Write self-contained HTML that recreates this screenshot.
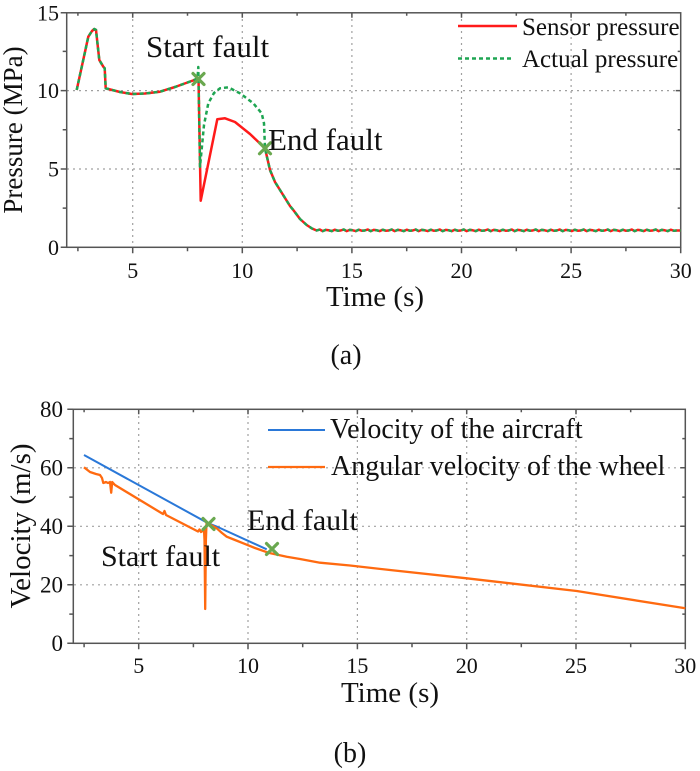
<!DOCTYPE html>
<html><head><meta charset="utf-8"><style>
html,body{margin:0;padding:0;background:#fff;}
svg{display:block;}
text{font-family:"Liberation Serif","Times New Roman",serif;}
</style></head><body>
<svg width="700" height="771" viewBox="0 0 700 771" xmlns="http://www.w3.org/2000/svg" font-family="Liberation Serif, serif">
<rect width="700" height="771" fill="#fff"/>
<!-- ===== (a) ===== -->
<g stroke="#a0a0a0" stroke-width="1.2" stroke-dasharray="2,4" fill="none">
<path d="M132.7,13V247 M242.3,13V247 M351.9,13V247 M461.5,13V247 M571.1,13V247"/>
<path d="M67,169H681 M67,90.6H681"/>
</g>
<g stroke="#555" stroke-width="1.5" fill="none">
<rect x="66.7" y="12.8" width="614" height="234.5"/>
<path d="M132.7,247.3v6 M242.3,247.3v6 M351.9,247.3v6 M461.5,247.3v6 M571.1,247.3v6 M680.7,247.3v6
M77.9,247.3v4 M187.5,247.3v4 M297.1,247.3v4 M406.7,247.3v4 M516.3,247.3v4 M625.9,247.3v4
M132.7,12.8v5 M242.3,12.8v5 M351.9,12.8v5 M461.5,12.8v5 M571.1,12.8v5
M77.9,12.8v3 M187.5,12.8v3 M297.1,12.8v3 M406.7,12.8v3 M516.3,12.8v3 M625.9,12.8v3
M66.7,247.3h-6 M66.7,169h-6 M66.7,90.6h-6 M66.7,12.8h-6
M66.7,208.1h-4 M66.7,129.8h-4 M66.7,51.4h-4
M680.7,169h-5 M680.7,90.6h-5 M680.7,208.1h-3 M680.7,129.8h-3 M680.7,51.4h-3"/>
</g>
<g font-size="22" fill="#111" text-anchor="end" font-family="Liberation Serif, serif">
<text x="59" y="255" font-family="Liberation Serif, serif">0</text><text x="59" y="176.5" font-family="Liberation Serif, serif">5</text><text x="59" y="98" font-family="Liberation Serif, serif">10</text><text x="59" y="20.5" font-family="Liberation Serif, serif">15</text>
</g>
<g font-size="22" fill="#111" text-anchor="middle" font-family="Liberation Serif, serif">
<text x="132.7" y="278" font-family="Liberation Serif, serif">5</text><text x="242.3" y="278" font-family="Liberation Serif, serif">10</text><text x="351.9" y="278" font-family="Liberation Serif, serif">15</text><text x="461.5" y="278" font-family="Liberation Serif, serif">20</text><text x="571.1" y="278" font-family="Liberation Serif, serif">25</text><text x="680.7" y="278" font-family="Liberation Serif, serif">30</text>
</g>
<text x="375" y="306" font-size="29" text-anchor="middle" fill="#111" font-family="Liberation Serif, serif">Time (s)</text>
<text transform="translate(22,130) rotate(-90)" font-size="27" text-anchor="middle" fill="#111" font-family="Liberation Serif, serif">Pressure (MPa)</text>
<text x="346" y="364" font-size="28" text-anchor="middle" fill="#111" font-family="Liberation Serif, serif">(a)</text>
<!-- series -->
<path fill="none" stroke="#ff1a1a" stroke-width="2.5" stroke-linejoin="round" d="M76.7,90 L88.3,36.7 L92,31 L94.3,29 L96,30 L99.3,60 L103.3,66.7 L104.7,68.3 L105.7,88.3 L108.3,89 L120,92 L131.7,94 L145,93.5 L160,91.7 L175,87 L193,80.5 L198.5,78 L200.7,200.7 L217.3,119.3 L225,118.3 L235,122 L250,134 L265,148.3 L270,170 L275,182 L280,190 L285,198 L290,206 L293.3,210 L300,219 L306.7,225 L312,228.5 L316.7,230.5
l3,-1 l3,1.6 l3,-1.2 l3,0.4 l3,0.8 l3,-1.4 l3,1 l3,-0.2 l3,-1 l3,1.6 l3,-1.2 l3,0.4 l3,0.8 l3,-1.4 l3,1 l3,-0.2 l3,-1 l3,1.6 l3,-1.2 l3,0.4 l3,0.8 l3,-1.4 l3,1 l3,-0.2 l3,-1 l3,1.6 l3,-1.2 l3,0.4 l3,0.8 l3,-1.4 l3,1 l3,-0.2 l3,-1 l3,1.6 l3,-1.2 l3,0.4 l3,0.8 l3,-1.4 l3,1 l3,-0.2 l3,-1 l3,1.6 l3,-1.2 l3,0.4 l3,0.8 l3,-1.4 l3,1 l3,-0.2 l3,-1 l3,1.6 l3,-1.2 l3,0.4 l3,0.8 l3,-1.4 l3,1 l3,-0.2 l3,-1 l3,1.6 l3,-1.2 l3,0.4 l3,0.8 l3,-1.4 l3,1 l3,-0.2 l3,-1 l3,1.6 l3,-1.2 l3,0.4 l3,0.8 l3,-1.4 l3,1 l3,-0.2 l3,-1 l3,1.6 l3,-1.2 l3,0.4 l3,0.8 l3,-1.4 l3,1 l3,-0.2 l3,-1 l3,1.6 l3,-1.2 l3,0.4 l3,0.8 l3,-1.4 l3,1 l3,-0.2 l3,-1 l3,1.6 l3,-1.2 l3,0.4 l3,0.8 l3,-1.4 l3,1 l3,-0.2 l3,-1 l3,1.6 l3,-1.2 l3,0.4 l3,0.8 l3,-1.4 l3,1 l3,-0.2 l3,-1 l3,1.6 l3,-1.2 l3,0.4 l3,0.8 l3,-1.4 l3,1 l3,-0.2 l3,-1 l3,1.6 l3,-1.2 l3,0.4 l3,0.8 l3,-1.4 l3,1 l3,-0.2 l4,0"/>
<path fill="none" stroke="#1ea552" stroke-width="2.5" stroke-dasharray="4,3" stroke-linejoin="round" d="M76.7,90 L88.3,36.7 L92,31 L94.3,29 L96,30 L99.3,60 L103.3,66.7 L104.7,68.3 L105.7,88.3 L108.3,89 L120,92 L131.7,94 L145,93.5 L160,91.7 L175,87 L193,80.5 L197.5,78.5 L198.3,67 L200,166.7 L204,125 L208.3,103.3 L214,93 L220,88.3 L228.3,87.3 L240,93.3 L253.3,103.3 L261.7,113.3 L264,123.3 L265,148.3 L270,170 L275,182 L280,190 L285,198 L290,206 L293.3,210 L300,219 L306.7,225 L312,228.5 L316.7,230.5
l3,-1 l3,1.6 l3,-1.2 l3,0.4 l3,0.8 l3,-1.4 l3,1 l3,-0.2 l3,-1 l3,1.6 l3,-1.2 l3,0.4 l3,0.8 l3,-1.4 l3,1 l3,-0.2 l3,-1 l3,1.6 l3,-1.2 l3,0.4 l3,0.8 l3,-1.4 l3,1 l3,-0.2 l3,-1 l3,1.6 l3,-1.2 l3,0.4 l3,0.8 l3,-1.4 l3,1 l3,-0.2 l3,-1 l3,1.6 l3,-1.2 l3,0.4 l3,0.8 l3,-1.4 l3,1 l3,-0.2 l3,-1 l3,1.6 l3,-1.2 l3,0.4 l3,0.8 l3,-1.4 l3,1 l3,-0.2 l3,-1 l3,1.6 l3,-1.2 l3,0.4 l3,0.8 l3,-1.4 l3,1 l3,-0.2 l3,-1 l3,1.6 l3,-1.2 l3,0.4 l3,0.8 l3,-1.4 l3,1 l3,-0.2 l3,-1 l3,1.6 l3,-1.2 l3,0.4 l3,0.8 l3,-1.4 l3,1 l3,-0.2 l3,-1 l3,1.6 l3,-1.2 l3,0.4 l3,0.8 l3,-1.4 l3,1 l3,-0.2 l3,-1 l3,1.6 l3,-1.2 l3,0.4 l3,0.8 l3,-1.4 l3,1 l3,-0.2 l3,-1 l3,1.6 l3,-1.2 l3,0.4 l3,0.8 l3,-1.4 l3,1 l3,-0.2 l3,-1 l3,1.6 l3,-1.2 l3,0.4 l3,0.8 l3,-1.4 l3,1 l3,-0.2 l3,-1 l3,1.6 l3,-1.2 l3,0.4 l3,0.8 l3,-1.4 l3,1 l3,-0.2 l3,-1 l3,1.6 l3,-1.2 l3,0.4 l3,0.8 l3,-1.4 l3,1 l3,-0.2 l4,0"/>
<g stroke="#6aa84f" stroke-width="3.2" stroke-linecap="round">
<path d="M193,73.5 l11,11 M204,73.5 l-11,11"/>
<path d="M259.5,142.8 l11,11 M270.5,142.8 l-11,11"/>
</g>
<text x="146" y="57" font-size="31" fill="#111" font-family="Liberation Serif, serif">Start fault</text>
<text x="268" y="150" font-size="31" fill="#111" font-family="Liberation Serif, serif">End fault</text>
<!-- legend a -->
<path d="M458,26H517" stroke="#ff1a1a" stroke-width="2.5"/>
<path d="M458,58.5H514" stroke="#1ea552" stroke-width="2.5" stroke-dasharray="4,3"/>
<text x="522" y="35" font-size="25" fill="#111" font-family="Liberation Serif, serif">Sensor pressure</text>
<text x="522" y="67" font-size="25" fill="#111" font-family="Liberation Serif, serif">Actual pressure</text>

<!-- ===== (b) ===== -->
<g stroke="#a0a0a0" stroke-width="1.2" stroke-dasharray="2,4" fill="none">
<path d="M138.7,410V643 M248,410V643 M357.4,410V643 M466.7,410V643 M576,410V643"/>
<path d="M74,584.8H685 M74,526.3H685 M74,467.8H685"/>
</g>
<g stroke="#555" stroke-width="1.5" fill="none">
<rect x="73.3" y="409.3" width="612" height="234"/>
<path d="M138.7,643.3v6 M248,643.3v6 M357.4,643.3v6 M466.7,643.3v6 M576,643.3v6 M685.3,643.3v6
M84.1,643.3v4 M193.4,643.3v4 M302.7,643.3v4 M412,643.3v4 M521.3,643.3v4 M630.7,643.3v4
M138.7,409.3v5 M248,409.3v5 M357.4,409.3v5 M466.7,409.3v5 M576,409.3v5
M84.1,409.3v3 M193.4,409.3v3 M302.7,409.3v3 M412,409.3v3 M521.3,409.3v3 M630.7,409.3v3
M73.3,643.3h-6 M73.3,584.8h-6 M73.3,526.3h-6 M73.3,467.8h-6 M73.3,409.3h-6
M73.3,614.1h-4 M73.3,555.6h-4 M73.3,497.1h-4 M73.3,438.6h-4
M685.3,584.8h-5 M685.3,526.3h-5 M685.3,467.8h-5 M685.3,614.1h-3 M685.3,555.6h-3 M685.3,497.1h-3 M685.3,438.6h-3"/>
</g>
<g font-size="23" fill="#111" text-anchor="end" font-family="Liberation Serif, serif">
<text x="63" y="651" font-family="Liberation Serif, serif">0</text><text x="63" y="592.5" font-family="Liberation Serif, serif">20</text><text x="63" y="534" font-family="Liberation Serif, serif">40</text><text x="63" y="475.5" font-family="Liberation Serif, serif">60</text><text x="63" y="417" font-family="Liberation Serif, serif">80</text>
</g>
<g font-size="22" fill="#111" text-anchor="middle" font-family="Liberation Serif, serif">
<text x="138.7" y="673" font-family="Liberation Serif, serif">5</text><text x="248" y="673" font-family="Liberation Serif, serif">10</text><text x="357.4" y="673" font-family="Liberation Serif, serif">15</text><text x="466.7" y="673" font-family="Liberation Serif, serif">20</text><text x="576" y="673" font-family="Liberation Serif, serif">25</text><text x="685.3" y="673" font-family="Liberation Serif, serif">30</text>
</g>
<text x="390" y="702" font-size="29" text-anchor="middle" fill="#111" font-family="Liberation Serif, serif">Time (s)</text>
<text transform="translate(30,526) rotate(-90)" font-size="29" text-anchor="middle" fill="#111" font-family="Liberation Serif, serif">Velocity (m/s)</text>
<text x="350" y="762" font-size="28" text-anchor="middle" fill="#111" font-family="Liberation Serif, serif">(b)</text>
<path fill="none" stroke="#2a78d8" stroke-width="2" d="M84,455 L208.3,523.3 L216.7,526.5 L266.7,549.3"/>
<path fill="none" stroke="#ff6a10" stroke-width="2.3" stroke-linejoin="round" d="M84,467.3 L90,472 L96,474 L100,475 L102,478 L103.3,483 L106,482 L108,483 L110,482 L111.2,492.7 L112.2,482 L115,485 L163,514 L164.5,511 L166,515 L198,531.5 L199.5,529.5 L201,532 L204,530 L204.5,540 L205.2,609 L205.9,540 L206.5,523.5 L210,524.5 L216.7,528.3 L222,533 L226.7,536.7 L235,540 L243.3,543.3 L255,548 L268.3,552.7 L286.7,556.7 L300,559 L320,562.7 L350,565.5 L390,570 L466.7,578.3 L576.7,591 L685.3,608.3"/>
<g stroke="#6aa84f" stroke-width="3.2" stroke-linecap="round">
<path d="M203,518.5 l11,11 M214,518.5 l-11,11"/>
<path d="M266.5,543.5 l11,11 M277.5,543.5 l-11,11"/>
</g>
<text x="101" y="566" font-size="30" fill="#111" font-family="Liberation Serif, serif">Start fault</text>
<text x="247" y="530" font-size="30" fill="#111" font-family="Liberation Serif, serif">End fault</text>
<path d="M268,430H325" stroke="#2a78d8" stroke-width="2"/>
<path d="M268,467H325" stroke="#ff6a10" stroke-width="2.3"/>
<text x="330" y="438" font-size="28" fill="#111" font-family="Liberation Serif, serif">Velocity of the aircraft</text>
<text x="331" y="475" font-size="28" fill="#111" font-family="Liberation Serif, serif">Angular velocity of the wheel</text>
</svg>
</body></html>
